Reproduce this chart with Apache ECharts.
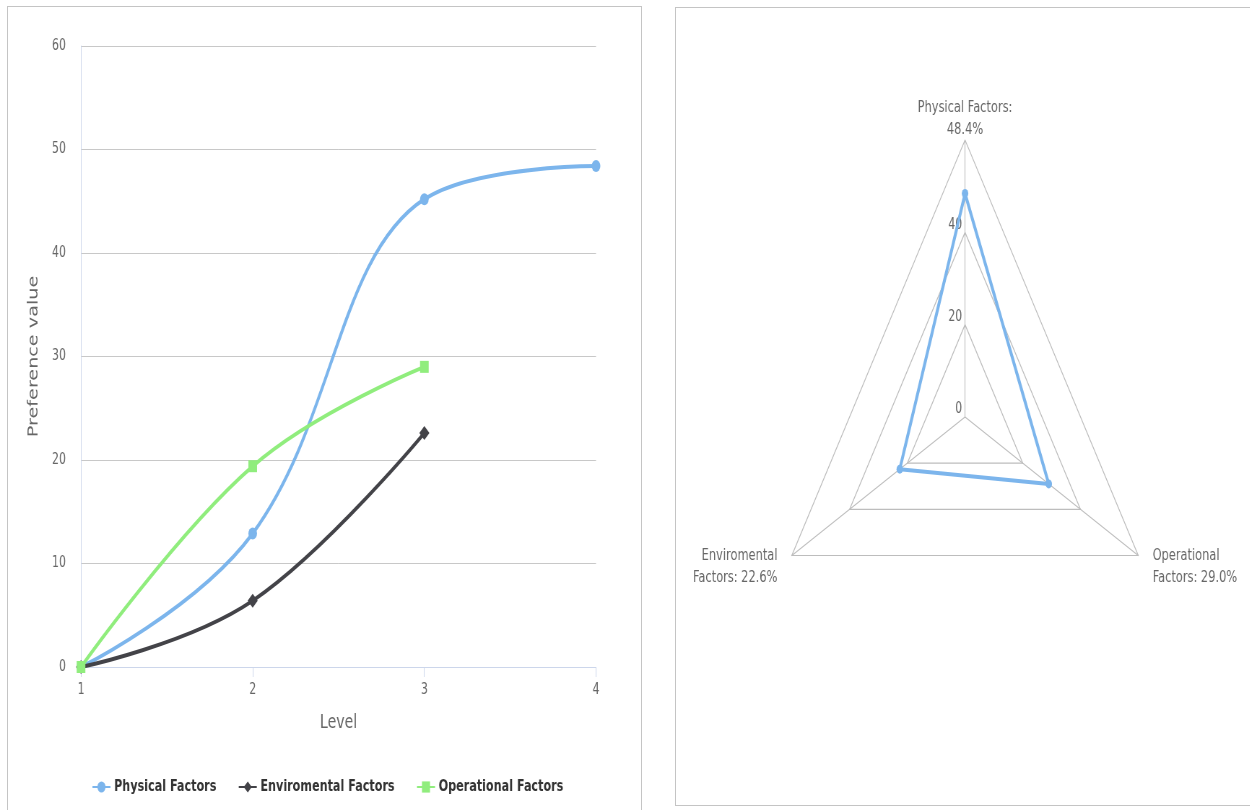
<!DOCTYPE html>
<html>
<head>
<meta charset="utf-8">
<title>Preference values by level</title>
<script src="https://cdn.jsdelivr.net/npm/echarts@6/dist/echarts.min.js"></script>
<style>
  html, body { margin: 0; padding: 0; background: #ffffff; overflow: hidden; }
  body { width: 1250px; height: 810px; position: relative; }
  .panel { position: absolute; border: 1px solid #c4c4c4; box-sizing: border-box; }
  #left-panel { left: 7px; top: 6px; width: 635px; height: 830px; }
  #right-panel { left: 675px; top: 7px; width: 620px; height: 799px; }
  /* the drawing is laid out on a wider canvas and narrowed to the page width */
  #chart { position: absolute; left: 0; top: 0; width: 1731px; height: 810px;
           transform: scaleX(0.722); transform-origin: 0 0; }
</style>
</head>
<body>
<div class="panel" id="left-panel"></div>
<div class="panel" id="right-panel"></div>
<div id="chart"></div>
<script>
// Levels on the x axis
const levels = [1, 2, 3, 4];

// Preference value of each factor group per level
const physicalValues = [0, 12.9, 45.2, 48.4];
const enviromentalValues = [0, 6.4, 22.6];
const operationalValues = [0, 19.4, 29.0];

const seriesNames = ['Physical Factors', 'Enviromental Factors', 'Operational Factors'];

// Final share of each factor group (radar)
const radarIndicators = ['Physical Factors', 'Enviromental Factors', 'Operational Factors'];
const radarShares = [48.4, 22.6, 29.0];

const FONT = 'DejaVu Sans';
const TEXT_GREY = '#666666';

function pairs(values) {
  return values.map(function (v, i) { return [levels[i], v]; });
}

const chart = echarts.init(document.getElementById('chart'), null, { renderer: 'canvas' });

const W = 1731;
const plotLeft = 112.2;
const plotRight = 825.5;

chart.setOption({
  backgroundColor: 'transparent',
  animation: false,
  textStyle: { fontFamily: FONT },
  legend: {
    data: seriesNames,
    left: 122,
    top: 774,
    itemWidth: 25,
    itemHeight: 14,
    itemGap: 30,
    textStyle: { fontFamily: FONT, fontWeight: 'bold', fontSize: 15.5, color: '#333333' }
  },
  grid: {
    left: plotLeft,
    right: W - plotRight,
    top: 46,
    bottom: 143,
    containLabel: false
  },
  xAxis: {
    type: 'value',
    min: 1,
    max: 4,
    interval: 1,
    name: 'Level',
    nameLocation: 'middle',
    nameGap: 46,
    nameTextStyle: { fontFamily: FONT, fontSize: 19.5, color: TEXT_GREY },
    axisLine: { show: true, lineStyle: { color: '#ccd6eb', width: 1 } },
    axisTick: { show: true, length: 10, lineStyle: { color: '#ccd6eb' } },
    axisLabel: { color: TEXT_GREY, fontSize: 15, margin: 16, fontFamily: FONT },
    splitLine: { show: false }
  },
  yAxis: {
    type: 'value',
    min: 0,
    max: 60,
    interval: 10,
    name: 'Preference value',
    nameLocation: 'middle',
    nameRotate: 90,
    nameGap: 56,
    nameTextStyle: { fontFamily: FONT, fontSize: 19.2, color: TEXT_GREY },
    axisLine: { show: true, lineStyle: { color: '#ccd6eb', width: 1 } },
    axisTick: { show: false },
    axisLabel: { color: TEXT_GREY, fontSize: 15, margin: 21, fontFamily: FONT },
    splitLine: { show: true, lineStyle: { color: '#c8c8c8', width: 1 } }
  },
  radar: {
    center: [1336.6, 417],
    radius: 277,
    startAngle: 90,
    splitNumber: 3,
    shape: 'polygon',
    axisNameGap: 23,
    axisName: {
      color: TEXT_GREY,
      fontSize: 15.8,
      lineHeight: 22,
      fontFamily: FONT,
      formatter: function (name) {
        const idx = radarIndicators.indexOf(name);
        const v = radarShares[idx].toFixed(1) + '%';
        if (idx === 0) {
          return name + ':\n' + v;
        }
        const words = name.split(' ');
        return words[0] + '\n' + words.slice(1).join(' ') + ': ' + v;
      }
    },
    indicator: radarIndicators.map(function (name, i) {
      const ind = { name: name, min: 0, max: 60 };
      if (i === 0) {
        ind.nameGap = -1;
        ind.axisLabel = { show: true, color: TEXT_GREY, fontSize: 15, margin: 4,
                          showMaxLabel: false, fontFamily: FONT, verticalAlign: 'bottom' };
      }
      return ind;
    }),
    axisLine: { show: true, lineStyle: { color: '#bdbdbd', width: 1.2 } },
    axisTick: { show: false },
    axisLabel: { show: false },
    splitLine: { show: true, lineStyle: { color: '#bdbdbd', width: 1.2 } },
    splitArea: { show: false }
  },
  series: [
    {
      name: seriesNames[0],
      type: 'line',
      smooth: 0.4,
      data: pairs(physicalValues),
      symbol: 'circle',
      symbolSize: 12,
      lineStyle: { color: '#7cb5ec', width: 4 },
      itemStyle: { color: '#7cb5ec' },
      z: 3
    },
    {
      name: seriesNames[1],
      type: 'line',
      smooth: 0.4,
      data: pairs(enviromentalValues),
      symbol: 'diamond',
      symbolSize: 14,
      lineStyle: { color: '#434348', width: 4 },
      itemStyle: { color: '#434348' },
      z: 3
    },
    {
      name: seriesNames[2],
      type: 'line',
      smooth: 0.4,
      data: pairs(operationalValues),
      symbol: 'rect',
      symbolSize: 12,
      lineStyle: { color: '#90ed7d', width: 4 },
      itemStyle: { color: '#90ed7d' },
      z: 3
    },
    {
      name: 'Share',
      type: 'radar',
      symbol: 'circle',
      symbolSize: 9,
      lineStyle: { color: '#7cb5ec', width: 4 },
      itemStyle: { color: '#7cb5ec' },
      data: [{ value: radarShares, name: 'Share' }]
    }
  ]
});
</script>
</body>
</html>
